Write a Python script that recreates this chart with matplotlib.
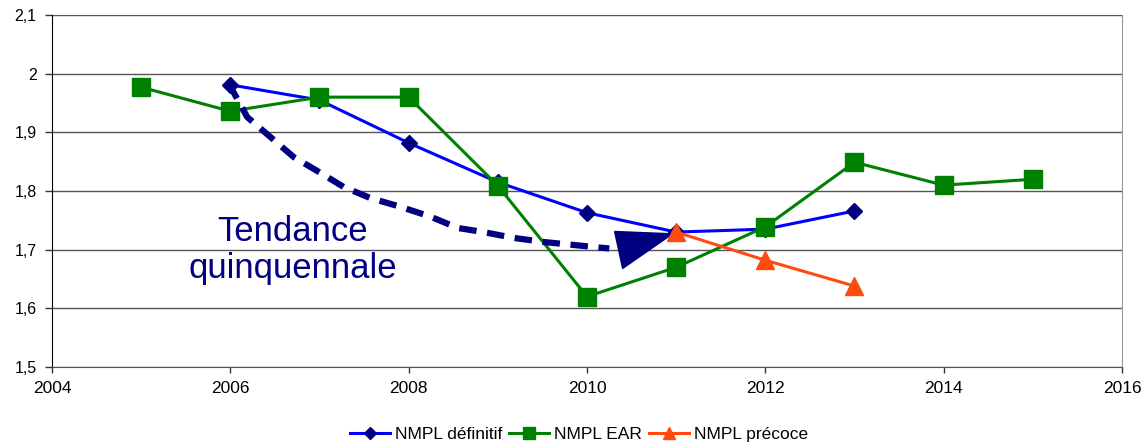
import matplotlib
matplotlib.use("Agg")
import matplotlib.pyplot as plt
from matplotlib.patches import Polygon

plt.rcParams["font.family"] = ["Liberation Sans", "DejaVu Sans"]

# NMPL series
def_years = [2006, 2007, 2008, 2009, 2010, 2011, 2012, 2013]
def_values = [1.981, 1.955, 1.882, 1.815, 1.763, 1.730, 1.735, 1.766]

ear_years = [2005, 2006, 2007, 2008, 2009, 2010, 2011, 2012, 2013, 2014, 2015]
ear_values = [1.977, 1.936, 1.960, 1.960, 1.809, 1.620, 1.670, 1.739, 1.849, 1.810, 1.820]

pre_years = [2011, 2012, 2013]
pre_values = [1.730, 1.682, 1.638]

# hand-drawn five-year trend and its arrowhead
trend_x = [2005.98, 2006.19, 2006.45, 2006.71, 2007.01, 2007.27, 2007.57, 2007.91,
           2008.25, 2008.55, 2008.84, 2009.18, 2009.52, 2009.85, 2010.25]
trend_y = [1.984, 1.926, 1.892, 1.858, 1.831, 1.807, 1.788, 1.773,
           1.756, 1.737, 1.730, 1.720, 1.713, 1.708, 1.702]
head_x = [2010.31, 2010.40, 2010.96]
head_y = [1.731, 1.668, 1.727]

y_ticks = [1.5, 1.6, 1.7, 1.8, 1.9, 2.0, 2.1]
y_labels = ["1,5", "1,6", "1,7", "1,8", "1,9", "2", "2,1"]
x_ticks = [2004, 2006, 2008, 2010, 2012, 2014, 2016]

fig = plt.figure(figsize=(11.47, 4.44), dpi=100)
ax = fig.add_axes([0.0453, 0.1734, 0.9329, 0.7928])

ax.plot(trend_x, trend_y, color="#000080", lw=4.5, dashes=(2.8, 1.7), zorder=4)
ax.add_patch(Polygon(list(zip(head_x, head_y)), closed=True, color="#000080", zorder=4))

ax.plot(def_years, def_values, color="#0000FF", lw=2.2, marker="D", ms=8.5,
        mfc="#000080", mec="#000080", label="NMPL définitif", zorder=3)
ax.plot(ear_years, ear_values, color="#008000", lw=2.2, marker="s", ms=13,
        mfc="#008000", mec="#008000", label="NMPL EAR", zorder=3)
ax.plot(pre_years, pre_values, color="#FF4A10", lw=2.2, marker="^", ms=13,
        mfc="#FF4A10", mec="#FF4A10", label="NMPL précoce", zorder=5)

ax.text(2006.7, 1.70, "Tendance\nquinquennale", color="#000080", fontsize=25,
        ha="center", va="center", linespacing=1.15)

ax.set_xlim(2004, 2016)
ax.set_ylim(1.5, 2.1)
ax.set_xticks(x_ticks)
ax.set_yticks(y_ticks)
ax.set_yticklabels(y_labels)
ax.tick_params(width=1, color="#333333")
ax.tick_params(axis="y", length=5, pad=6, labelsize=11.5)
ax.tick_params(axis="x", length=4, pad=6, labelsize=12.5)

ax.grid(axis="y", color="#555555", lw=1)
ax.set_axisbelow(True)
ax.spines["left"].set_color("black")
ax.spines["bottom"].set_color("#555555")
ax.spines["top"].set_visible(False)
ax.spines["right"].set_color("#999999")

fig.legend(loc="center", bbox_to_anchor=(0.505, 0.022), ncol=3, frameon=False,
           fontsize=12.5, handlelength=2.3, handletextpad=0.3, columnspacing=0.4,
           markerscale=0.7)

fig.savefig("out.png", dpi=100)
